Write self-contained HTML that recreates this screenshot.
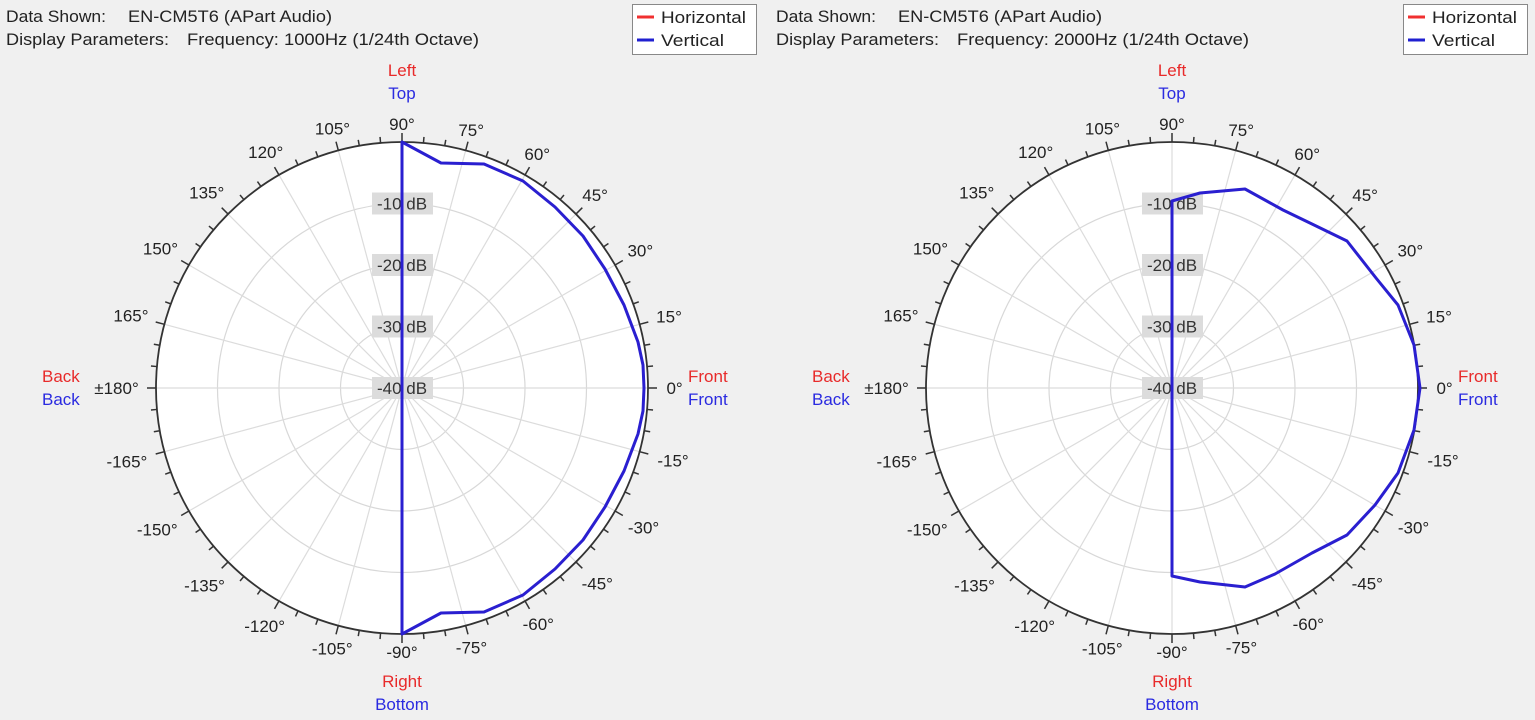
<!DOCTYPE html>
<html><head><meta charset="utf-8">
<style>
html,body{margin:0;padding:0;background:#f0f0f0;}
svg{display:block;font-family:"Liberation Sans",sans-serif;}
</style></head>
<body>
<svg id="s" width="1535" height="720" viewBox="0 0 1535 720" xmlns="http://www.w3.org/2000/svg">
<rect width="1535" height="720" fill="#f0f0f0"/>
<g font-size="17" fill="#222">
<text x="6" y="22" textLength="100" lengthAdjust="spacingAndGlyphs">Data Shown:</text><text x="128" y="22" textLength="204" lengthAdjust="spacingAndGlyphs">EN-CM5T6 (APart Audio)</text>
<text x="6" y="45" textLength="163" lengthAdjust="spacingAndGlyphs">Display Parameters:</text><text x="187" y="45" textLength="292" lengthAdjust="spacingAndGlyphs">Frequency: 1000Hz (1/24th Octave)</text>
<text x="776" y="22" textLength="100" lengthAdjust="spacingAndGlyphs">Data Shown:</text><text x="898" y="22" textLength="204" lengthAdjust="spacingAndGlyphs">EN-CM5T6 (APart Audio)</text>
<text x="776" y="45" textLength="163" lengthAdjust="spacingAndGlyphs">Display Parameters:</text><text x="957" y="45" textLength="292" lengthAdjust="spacingAndGlyphs">Frequency: 2000Hz (1/24th Octave)</text>
</g>
<g>
<rect x="632.5" y="4.5" width="124" height="50" fill="#fff" stroke="#888"/>
<line x1="637" y1="17" x2="654" y2="17" stroke="#f03030" stroke-width="3"/>
<line x1="637" y1="40" x2="654" y2="40" stroke="#2020d0" stroke-width="3"/>
<text x="661" y="23" font-size="17" fill="#222" textLength="85" lengthAdjust="spacingAndGlyphs">Horizontal</text>
<text x="661" y="46" font-size="17" fill="#222" textLength="63" lengthAdjust="spacingAndGlyphs">Vertical</text>
<rect x="1403.5" y="4.5" width="124" height="50" fill="#fff" stroke="#888"/>
<line x1="1408" y1="17" x2="1425" y2="17" stroke="#f03030" stroke-width="3"/>
<line x1="1408" y1="40" x2="1425" y2="40" stroke="#2020d0" stroke-width="3"/>
<text x="1432" y="23" font-size="17" fill="#222" textLength="85" lengthAdjust="spacingAndGlyphs">Horizontal</text>
<text x="1432" y="46" font-size="17" fill="#222" textLength="63" lengthAdjust="spacingAndGlyphs">Vertical</text>
</g>
<g id="c1"></g><g id="c2"></g>
</svg>
<script>
var NS="http://www.w3.org/2000/svg";
function el(p,t,a,txt){var e=document.createElementNS(NS,t);for(var k in a)e.setAttribute(k,a[k]);if(txt!==undefined)e.textContent=txt;p.appendChild(e);return e;}
function chart(g,cx,cy,pts){
  var R=246;
  el(g,"circle",{cx:cx,cy:cy,r:R,fill:"#fff"});
  for(var i=1;i<=3;i++)el(g,"circle",{cx:cx,cy:cy,r:R*i/4,fill:"none",stroke:"#d8d8d8","stroke-width":1.2});
  for(var a=0;a<360;a+=15){var t=a*Math.PI/180;
    el(g,"line",{x1:cx,y1:cy,x2:cx+R*Math.cos(t),y2:cy-R*Math.sin(t),stroke:"#dcdcdc","stroke-width":1.2});}
  for(var a=0;a<360;a+=5){var t=a*Math.PI/180,L=(a%15==0)?9:6;
    el(g,"line",{x1:cx+R*Math.cos(t),y1:cy-R*Math.sin(t),x2:cx+(R+L)*Math.cos(t),y2:cy-(R+L)*Math.sin(t),stroke:"#333","stroke-width":1.5});}
  el(g,"circle",{cx:cx,cy:cy,r:R,fill:"none",stroke:"#333","stroke-width":1.8});
  var labs=["-10 dB","-20 dB","-30 dB","-40 dB"];
  for(var i=0;i<4;i++){var y=cy-R*(3-i)/4;
    el(g,"rect",{x:cx-30,y:y-11,width:61,height:22,fill:"#dcdcdc"});
    el(g,"text",{x:cx,y:y+6,"text-anchor":"middle","font-size":17,fill:"#333"},labs[i]);}
  for(var a=-165;a<=180;a+=15){var t=a*Math.PI/180;
    var s=(a==180)?"±180°":a+"°";var hw=s.length*4.3;
    var r=264+hw*Math.abs(Math.cos(t));
    el(g,"text",{x:cx+r*Math.cos(t),y:cy-r*Math.sin(t)+6,"text-anchor":"middle","font-size":17,fill:"#222"},s);}
  el(g,"text",{x:cx,y:76,"text-anchor":"middle","font-size":17,fill:"#e82a2a"},"Left");
  el(g,"text",{x:cx,y:99,"text-anchor":"middle","font-size":17,fill:"#2a2ae0"},"Top");
  el(g,"text",{x:cx,y:687,"text-anchor":"middle","font-size":17,fill:"#e82a2a"},"Right");
  el(g,"text",{x:cx,y:710,"text-anchor":"middle","font-size":17,fill:"#2a2ae0"},"Bottom");
  el(g,"text",{x:cx+286,y:382,"font-size":17,fill:"#e82a2a"},"Front");
  el(g,"text",{x:cx+286,y:405,"font-size":17,fill:"#2a2ae0"},"Front");
  el(g,"text",{x:cx-360,y:382,"font-size":17,fill:"#e82a2a"},"Back");
  el(g,"text",{x:cx-360,y:405,"font-size":17,fill:"#2a2ae0"},"Back");
  el(g,"polygon",{points:pts,fill:"none",stroke:"#2a1fd0","stroke-width":3,"stroke-linejoin":"round"});
}
chart(document.getElementById("c1"),402,388,"402,142 441,163 484,164 523,181 555,207 583,236 605,269 624,305 638,342 643,365 644,388 643,411 638,434 624,471 605,507 583,540 555,569 523,595 484,612 441,613 402,634");
chart(document.getElementById("c2"),1172,388,"1172,201 1200,193 1245,189 1283,210 1312,224 1347,241 1376,278 1398,305 1414,345 1420,388 1414,430 1398,473 1375,505 1347,535 1312,553 1275,574 1245,587 1200,582 1172,576");
</script>
</body></html>
